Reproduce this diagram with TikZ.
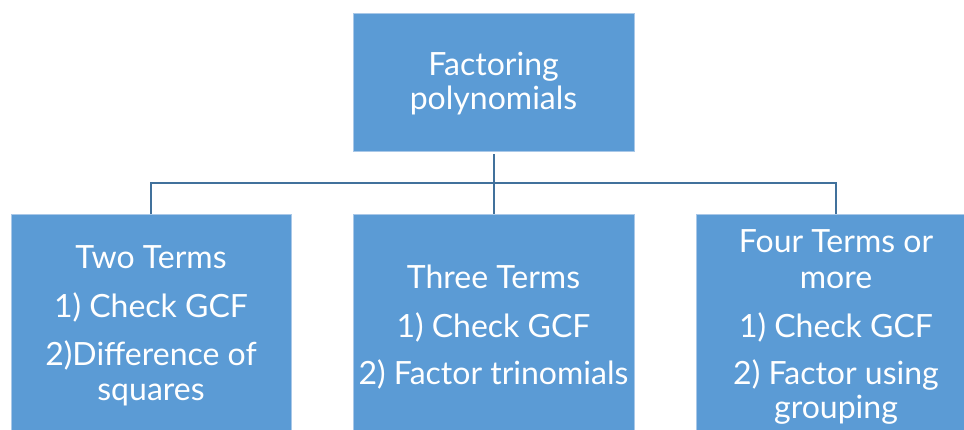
\documentclass[tikz,border=0pt]{standalone}
\usepackage{fontspec}
\setmainfont{Lato}
\definecolor{boxfill}{HTML}{5B9BD5}
\definecolor{boxedge}{HTML}{A9C8E8}
\definecolor{linkcol}{HTML}{41719C}
\begin{document}
\begin{tikzpicture}[x=1pt,y=-1pt,
  box/.style={draw=boxedge,line width=0.8pt,fill=boxfill,rectangle,inner sep=0pt},
  txt/.style={anchor=base,text=white,inner sep=0pt,font=\fontsize{32}{38}\selectfont},
  link/.style={draw=linkcol,line width=2pt}]
\useasboundingbox (0,0) rectangle (964,429);
% boxes
\path[box] (353,13) rectangle (634,151);
\coordinate (topS) at (493.5,154);
\path[box] (11,214) rectangle (291,440);
\path[box] (353,214) rectangle (634,440);
\path[box] (696,214) rectangle (976,440);
\coordinate (lN) at (151,214);
\coordinate (mN) at (493.5,214);
\coordinate (rN) at (836,214);
\coordinate (junc) at (493.5,183);
% connectors
\draw[link] (topS) -- (junc);
\draw[link] (junc) -- (mN);
\draw[link] (lN) |- (junc);
\draw[link] (rN) |- (junc);
% texts
\node[txt] (t1) at (493.5,75) {Factoring};
\node[txt] (t2) at (493.5,109) {polynomials};
\node[txt] (l1) at (151,268) {Two Terms};
\node[txt] (l2) at (151,317) {1) Check GCF};
\node[txt] (l3) at (151,365) {2)Difference of};
\node[txt] (l4) at (151,400) {squares};
\node[txt] (m1) at (493.5,288) {Three Terms};
\node[txt] (m2) at (493.5,337) {1) Check GCF};
\node[txt] (m3) at (493.5,384) {2) Factor trinomials};
\node[txt] (r1) at (836,252) {Four Terms or};
\node[txt] (r2) at (836,288) {more};
\node[txt] (r3) at (836,337) {1) Check GCF};
\node[txt] (r4) at (836,384) {2) Factor using};
\node[txt] (r5) at (836,418) {grouping};
\end{tikzpicture}
\end{document}
